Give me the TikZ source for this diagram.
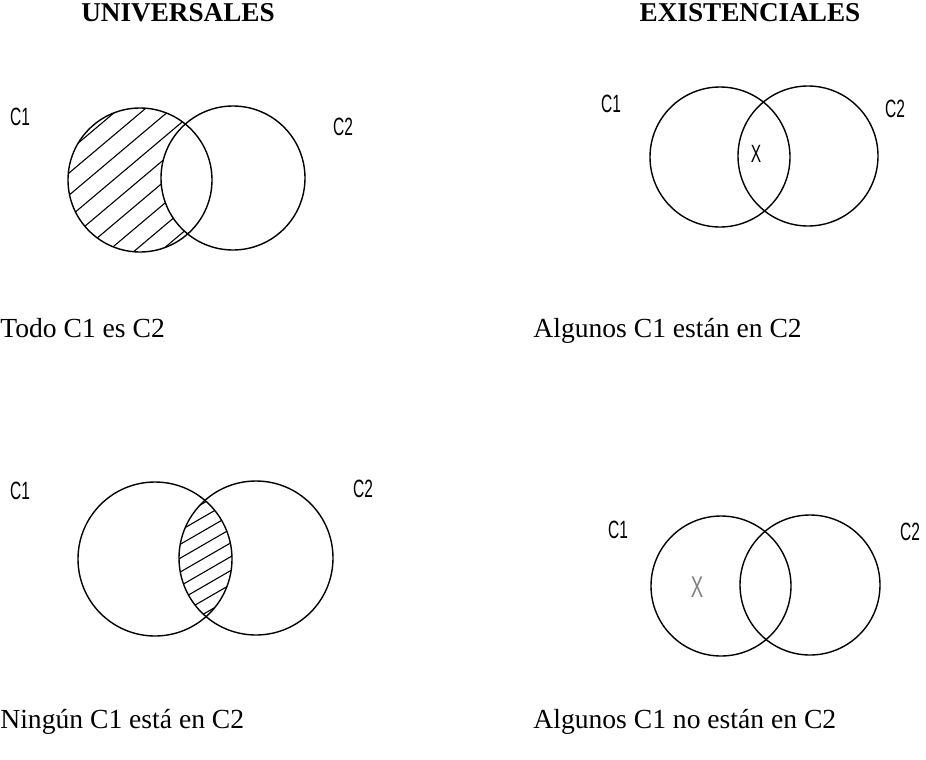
\documentclass[tikz,border=0pt]{standalone}
\usepackage{fontspec}
\setmainfont{Liberation Serif}
\newfontfamily\labelfont{Liberation Sans}
\usepackage{tikz}
\usetikzlibrary{positioning}

\tikzset{
    venn/.style={line width=0.7pt},
    hatch/.style={line width=0.55pt},
    titletext/.style={anchor=base, inner sep=0, font=\fontsize{13.6}{16}\selectfont\bfseries},
    captiontext/.style={anchor=base west, inner sep=0, font=\fontsize{13.8}{16}\selectfont},
    setlabel/.style={inner sep=0, xscale=0.62, font=\labelfont\fontsize{12.5}{14}\selectfont}
}

\begin{document}
\begin{tikzpicture}[x=0.5pt, y=-0.5pt]
                        \useasboundingbox (0, 0) rectangle (926, 760);
                        \node[titletext] (univ) at (178, 21) {UNIVERSALES};
                        \node[titletext] (exist) at (750, 21) {EXISTENCIALES};
                        % todo C1 es C2
                        \coordinate (a1) at (140, 180);
                        \coordinate (a2) at (233, 178);
                        \begin{scope}
                            \clip (a1) circle (72);
                            \foreach \k in {-6,...,6}
                                \draw[hatch] (140+\k*10.9-76.6, 180+\k*13+64.3) -- ++(153, -129);
                        \end{scope}
                        \fill[white] (a2) circle (72);
                        \draw[venn] (a1) circle (72);
                        \draw[venn] (a2) circle (72);
                        \node[setlabel] (a1lbl) at (20, 117) {C1};
                        \node[setlabel] (a2lbl) at (343, 127) {C2};
                        \node[captiontext] (acap) at (0, 337) {Todo C1 es C2};
                        % algunos C1 estan en C2
                        \coordinate (b1) at (720, 157);
                        \coordinate (b2) at (808, 156);
                        \draw[venn] (b1) circle (70);
                        \draw[venn] (b2) circle (70);
                        \node[setlabel] (bx) at (756, 154) {X};
                        \node[setlabel] (b1lbl) at (611, 104) {C1};
                        \node[setlabel] (b2lbl) at (895, 109) {C2};
                        \node[captiontext] (bcap) at (533, 337) {Algunos C1 están en C2};
                        % ningun C1 esta en C2
                        \coordinate (c1) at (155, 559);
                        \coordinate (c2) at (256, 558);
                        \begin{scope}
                            \clip (c1) circle (77);
                            \clip (c2) circle (77);
                            \foreach \k in {-7,...,7}
                                \draw[hatch] (205+\k*6-87, 558+\k*10.4+50) -- ++(173, -100);
                        \end{scope}
                        \draw[venn] (c1) circle (77);
                        \draw[venn] (c2) circle (77);
                        \node[setlabel] (c1lbl) at (20, 491) {C1};
                        \node[setlabel] (c2lbl) at (363, 489) {C2};
                        \node[captiontext] (ccap) at (0, 728) {Ningún C1 está en C2};
                        % algunos C1 no estan en C2
                        \coordinate (d1) at (721, 586);
                        \coordinate (d2) at (810, 585);
                        \draw[venn] (d1) circle (70);
                        \draw[venn] (d2) circle (70);
                        \node[setlabel, text=gray, font=\labelfont\fontsize{15}{16}\selectfont] (dx) at (697, 587) {X};
                        \node[setlabel] (d1lbl) at (618, 530) {C1};
                        \node[setlabel] (d2lbl) at (910, 532) {C2};
                        \node[captiontext] (dcap) at (533, 728) {Algunos C1 no están en C2};
                    \end{tikzpicture}
\end{document}
